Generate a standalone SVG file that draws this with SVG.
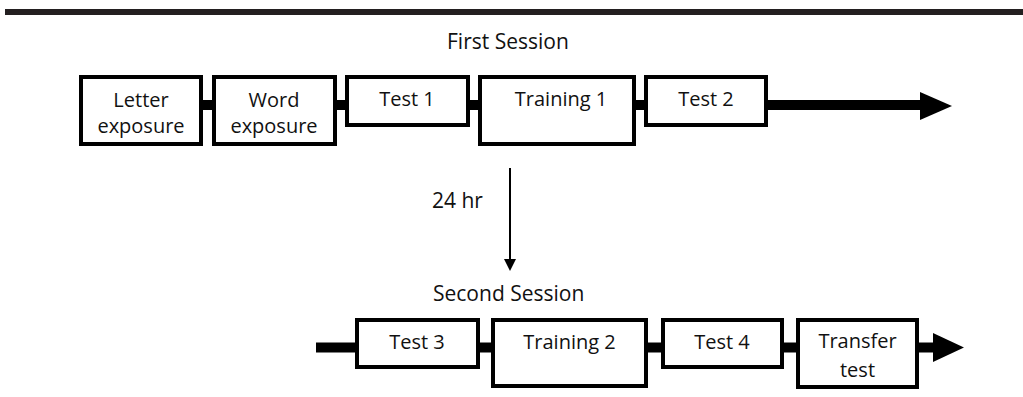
<svg xmlns="http://www.w3.org/2000/svg" width="1023" height="397" viewBox="0 0 1023 397">
<style>
.box{fill:#fff;stroke:#000;stroke-width:4}
.bar{stroke:#000;stroke-width:10;fill:none}
.t{font-family:"Open Sans","Noto Sans",sans-serif;font-size:20px;fill:#111;text-anchor:middle}
.h{font-family:"Open Sans","Noto Sans",sans-serif;font-size:21px;fill:#111}
</style>
<rect width="1023" height="397" fill="#fff"/>
<rect x="5" y="9" width="1018" height="6" fill="#231f20"/>
<text class="h" x="447" y="49">First Session</text>
<text class="h" x="432" y="208">24 hr</text>
<text class="h" x="433" y="301">Second Session</text>
<g id="connectors">
<line class="bar" x1="201" y1="105" x2="214" y2="105"/>
<line class="bar" x1="335" y1="105" x2="347" y2="105"/>
<line class="bar" x1="468" y1="105" x2="480" y2="105"/>
<line class="bar" x1="634" y1="105" x2="646" y2="105"/>
<line class="bar" x1="766" y1="105" x2="922" y2="105"/>
<polygon points="920,92 952,106 920,120" fill="#000"/>
<line x1="510" y1="168" x2="510" y2="262" stroke="#000" stroke-width="2"/>
<polygon points="504,259 516,259 510,271" fill="#000"/>
<line class="bar" x1="316" y1="347.5" x2="357" y2="347.5"/>
<line class="bar" x1="478" y1="347.5" x2="493" y2="347.5"/>
<line class="bar" x1="646" y1="347.5" x2="663" y2="347.5"/>
<line class="bar" x1="782" y1="347.5" x2="798" y2="347.5"/>
<line class="bar" x1="917" y1="347.5" x2="935" y2="347.5"/>
<polygon points="933,333 964,347.5 933,362" fill="#000"/>
</g>
<g id="letter-exposure"><rect class="box" x="81" y="77" width="120" height="67"/><text class="t" x="141" y="107">Letter</text><text class="t" x="141" y="133">exposure</text></g>
<g id="word-exposure"><rect class="box" x="214" y="77" width="121" height="67"/><text class="t" x="274" y="107">Word</text><text class="t" x="274" y="133">exposure</text></g>
<g id="test1"><rect class="box" x="347" y="77" width="121" height="48"/><text class="t" x="407" y="106">Test 1</text></g>
<g id="training1"><rect class="box" x="480" y="77" width="154" height="67"/><text class="t" x="561" y="106">Training 1</text></g>
<g id="test2"><rect class="box" x="646" y="77" width="120" height="48"/><text class="t" x="706" y="106">Test 2</text></g>
<g id="test3"><rect class="box" x="357" y="320" width="121" height="47"/><text class="t" x="417" y="349">Test 3</text></g>
<g id="training2"><rect class="box" x="493" y="320" width="153" height="66"/><text class="t" x="569.5" y="349">Training 2</text></g>
<g id="test4"><rect class="box" x="663" y="320" width="119" height="47"/><text class="t" x="722" y="349">Test 4</text></g>
<g id="transfer-test"><rect class="box" x="798" y="320" width="119" height="67"/><text class="t" x="857.5" y="348">Transfer</text><text class="t" x="857.5" y="377">test</text></g>
</svg>
